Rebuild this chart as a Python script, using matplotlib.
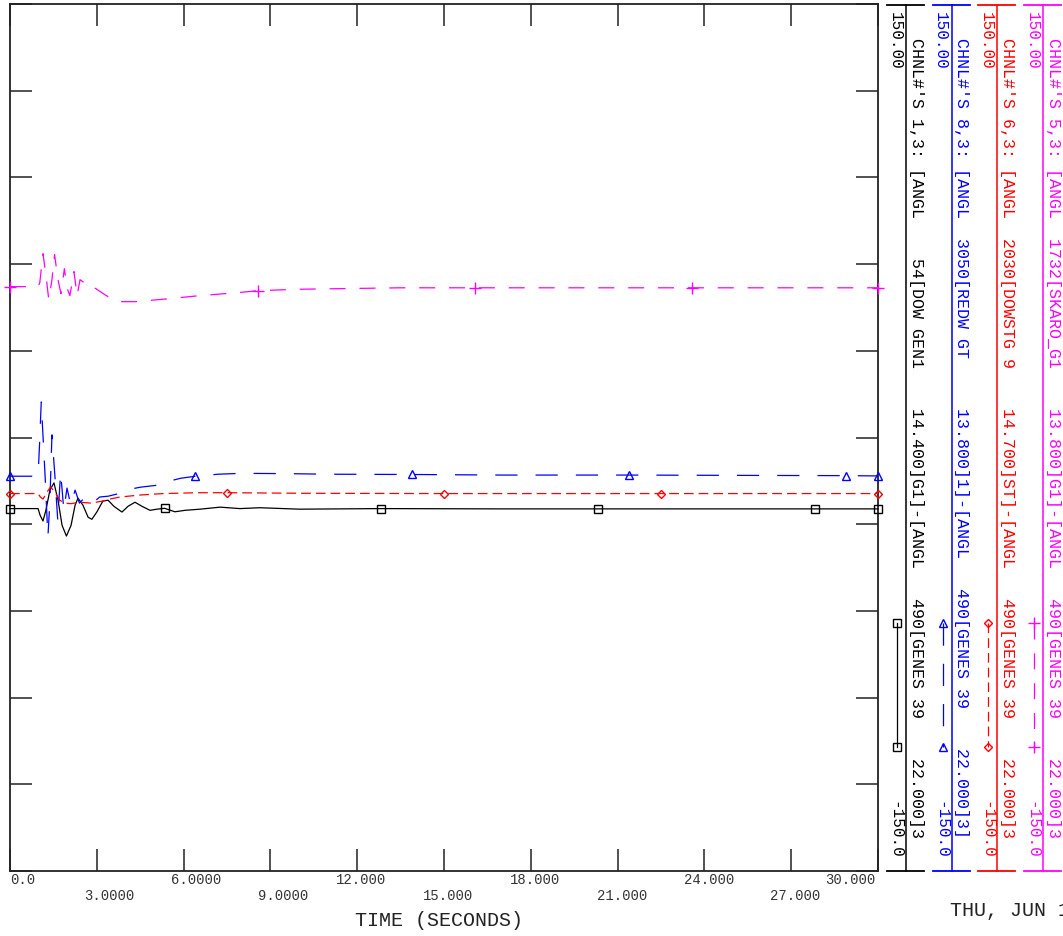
import numpy as np
import matplotlib
matplotlib.use("Agg")
import matplotlib.pyplot as plt
from matplotlib.lines import Line2D
from matplotlib.transforms import offset_copy

plt.rcParams["font.family"] = ["Liberation Mono", "DejaVu Sans Mono"]
plt.rcParams["lines.scale_dashes"] = False

# channel data (time in s, angle difference in deg)
t_ch1 = [0.0, 0.97, 1.04, 1.14, 1.24, 1.38, 1.52, 1.66, 1.80, 1.95, 2.11, 2.25, 2.35, 2.52,
         2.70, 2.83, 3.00, 3.21, 3.39, 3.59, 3.87, 4.08, 4.32, 4.56, 4.84, 5.08, 5.34, 5.70,
         6.05, 6.57, 7.26, 7.95, 8.64, 10.0, 12.83, 16.9, 20.33, 24.0, 27.83, 30.0]
v_ch1 = [-24.6, -24.6, -26.9, -28.9, -25.2, -18.2, -15.7, -21.7, -30.4, -34.1, -30.4, -23.4,
         -21.0, -23.4, -27.6, -28.3, -25.8, -22.0, -21.7, -23.8, -25.8, -23.8, -22.4, -23.8,
         -25.2, -24.8, -24.5, -25.7, -25.2, -24.8, -24.1, -24.6, -24.3, -24.8, -24.6, -24.7,
         -24.7, -24.7, -24.7, -24.7]
mark_ch1 = [0.0, 5.34, 12.83, 20.33, 27.83, 30.0]

t_ch8 = [0.0, 0.97, 1.02, 1.08, 1.13, 1.22, 1.31, 1.38, 1.45, 1.55, 1.65, 1.75, 1.86, 1.97,
         2.10, 2.25, 2.40, 2.60, 2.85, 3.10, 3.40, 3.80, 4.15, 4.50, 5.10, 5.50, 5.90, 6.41,
         7.20, 8.00, 9.50, 11.0, 13.91, 17.0, 21.41, 25.0, 28.91, 30.0]
v_ch8 = [-13.4, -13.4, -2.6, 12.3, 2.6, -14.7, -34.5, -21.7, 0.9, -13.0, -28.6, -12.0, -25.2,
         -17.5, -23.4, -18.2, -22.7, -20.6, -22.7, -20.6, -20.3, -19.3, -17.9, -17.2, -16.5,
         -15.1, -14.1, -13.4, -12.7, -12.4, -12.5, -12.7, -12.8, -13.0, -13.0, -13.1, -13.2,
         -13.3]
mark_ch8 = [0.0, 6.41, 13.91, 21.41, 28.91, 30.0]

t_ch6 = [0.0, 0.97, 1.05, 1.14, 1.28, 1.40, 1.55, 1.72, 1.90, 2.10, 2.40, 2.80, 3.20, 3.45,
         3.80, 4.50, 5.30, 6.50, 7.50, 10.0, 15.0, 22.5, 30.0]
v_ch6 = [-19.4, -19.4, -20.6, -21.3, -18.9, -17.1, -18.9, -21.7, -22.7, -22.9, -22.4, -22.7,
         -22.0, -21.3, -20.6, -19.9, -19.4, -19.1, -19.1, -19.3, -19.4, -19.4, -19.4]
mark_ch6 = [0.0, 7.5, 15.0, 22.5, 30.0]

t_ch5 = [0.0, 0.97, 1.03, 1.14, 1.24, 1.34, 1.45, 1.54, 1.66, 1.76, 1.88, 1.97, 2.07, 2.21,
         2.32, 2.42, 2.56, 2.66, 2.83, 2.97, 3.28, 3.56, 3.87, 4.32, 5.36, 6.57, 7.85, 8.57,
         10.0, 13.5, 16.07, 23.57, 30.0]
v_ch5 = [52.2, 52.2, 53.6, 63.6, 56.4, 47.7, 54.6, 63.3, 54.6, 49.8, 58.4, 51.8, 49.1, 57.4,
         49.1, 54.6, 53.6, 53.9, 52.2, 51.5, 49.4, 47.7, 47.0, 47.0, 47.9, 49.1, 50.1, 50.8,
         51.3, 51.8, 51.8, 51.8, 51.8]
mark_ch5 = [0.0, 8.57, 16.07, 23.57, 30.0]

legend_titles = [
    "CHNL#'S 1,3: [ANGL    54[DOW GEN1    14.400]G1]-[ANGL   490[GENES 39    22.000]3",
    "CHNL#'S 8,3: [ANGL  3050[REDW GT     13.800]1]-[ANGL   490[GENES 39    22.000]3]",
    "CHNL#'S 6,3: [ANGL  2030[DOWSTG 9    14.700]ST]-[ANGL   490[GENES 39    22.000]3",
    "CHNL#'S 5,3: [ANGL  1732[SKARO_G1    13.800]G1]-[ANGL   490[GENES 39    22.000]3",
]
y_max_label = "150.00"
y_min_label = "-150.0"
x_ticks = [0, 3, 6, 9, 12, 15, 18, 21, 24, 27, 30]
x_tick_labels = ["0.0", "3.0000", "6.0000", "9.0000", "12.000", "15.000",
                 "18.000", "21.000", "24.000", "27.000", "30.000"]

series = [
    (t_ch1, v_ch1, mark_ch1, "#000000", "s", 5.5, "-"),
    (t_ch8, v_ch8, mark_ch8, "#0000ff", "^", 6, (0, (16, 13))),
    (t_ch6, v_ch6, mark_ch6, "#ff0000", "D", 4, (0, (7, 3.6))),
    (t_ch5, v_ch5, mark_ch5, "#ff00ff", "+", 8, (0, (11.5, 10))),
]

W, H = 1063, 936
fig = plt.figure(figsize=(W / 100, H / 100), dpi=100)
ax = fig.add_axes([10 / W, (H - 871) / H, 868 / W, 867 / H])

for t, v, marks, col, mk, ms, ls in series:
    idx = [i for i, tt in enumerate(t) if tt in marks]
    ax.plot(t, v, color=col, lw=0.9, linestyle=ls, marker=mk, ms=ms,
            markevery=idx, mfc="none", mec=col, mew=1.0, clip_on=False, zorder=3)

ax.set_xlim(0, 30)
ax.set_ylim(-150, 150)
ax.set_xticks(x_ticks)
ax.set_yticks(np.arange(-150, 151, 30))
ax.tick_params(direction="in", length=16, width=1.1, color="#222222",
               top=True, bottom=True, left=True, right=True,
               labelbottom=False, labelleft=False)
for sp in ax.spines.values():
    sp.set_linewidth(1.3)
    sp.set_color("#222222")

# tick labels: two rows, aligned on the decimal point
fs_tick = 10
cw = 0.6 * fs_tick
for k, (xt, lab) in enumerate(zip(x_ticks, x_tick_labels)):
    dy = -6.5 if k % 2 == 0 else -18
    if k == 0:
        tr = offset_copy(ax.get_xaxis_transform(), fig=fig, x=0, y=dy, units="points")
        ax.text(xt, 0, lab, transform=tr, ha="left", va="center", fontsize=fs_tick, color="#333333")
    elif k == len(x_ticks) - 1:
        tr = offset_copy(ax.get_xaxis_transform(), fig=fig, x=-2, y=dy, units="points")
        ax.text(xt, 0, lab, transform=tr, ha="right", va="center", fontsize=fs_tick, color="#333333")
    else:
        dx = -(lab.index(".") + 0.5) * cw
        tr = offset_copy(ax.get_xaxis_transform(), fig=fig, x=dx, y=dy, units="points")
        ax.text(xt, 0, lab, transform=tr, ha="left", va="center", fontsize=fs_tick, color="#333333")

# overlay in pixel coords for the legend columns and footer text
ov = fig.add_axes([0, 0, 1, 1])
ov.set_xlim(0, W)
ov.set_ylim(H, 0)
ov.axis("off")
ov.patch.set_visible(False)

ov.text(439, 921, "TIME (SECONDS)", ha="center", va="center", fontsize=14.4, color="#222222")
ov.text(950, 910, "THU, JUN 1", ha="left", va="center", fontsize=14.4, color="#222222")

for i, (t, v, marks, col, mk, ms, ls) in enumerate(series):
    xc = 906 + 45.7 * i
    ov.plot([xc, xc], [4.5, 870.5], color=col, lw=1.1)
    ov.plot([xc - 19, xc + 18], [4.5, 4.5], color=col, lw=1.3)
    ov.plot([xc - 19, xc + 18], [870.5, 870.5], color=col, lw=1.3)
    ov.text(xc - 11, 12, y_max_label, rotation=-90, ha="center", va="top",
            fontsize=11.5, color=col)
    ov.text(xc - 11, 859, y_min_label, rotation=-90, ha="center", va="bottom",
            fontsize=11.5, color=col)
    ov.text(xc + 10, 38, legend_titles[i], rotation=-90, ha="center", va="top",
            fontsize=12, color=col)
    ov.add_line(Line2D([xc - 9, xc - 9], [623, 747], color=col, lw=0.9, linestyle=ls,
                       marker=mk, ms=ms, mfc="none", mec=col, mew=1.0))

fig.savefig("out.png", dpi=100)
